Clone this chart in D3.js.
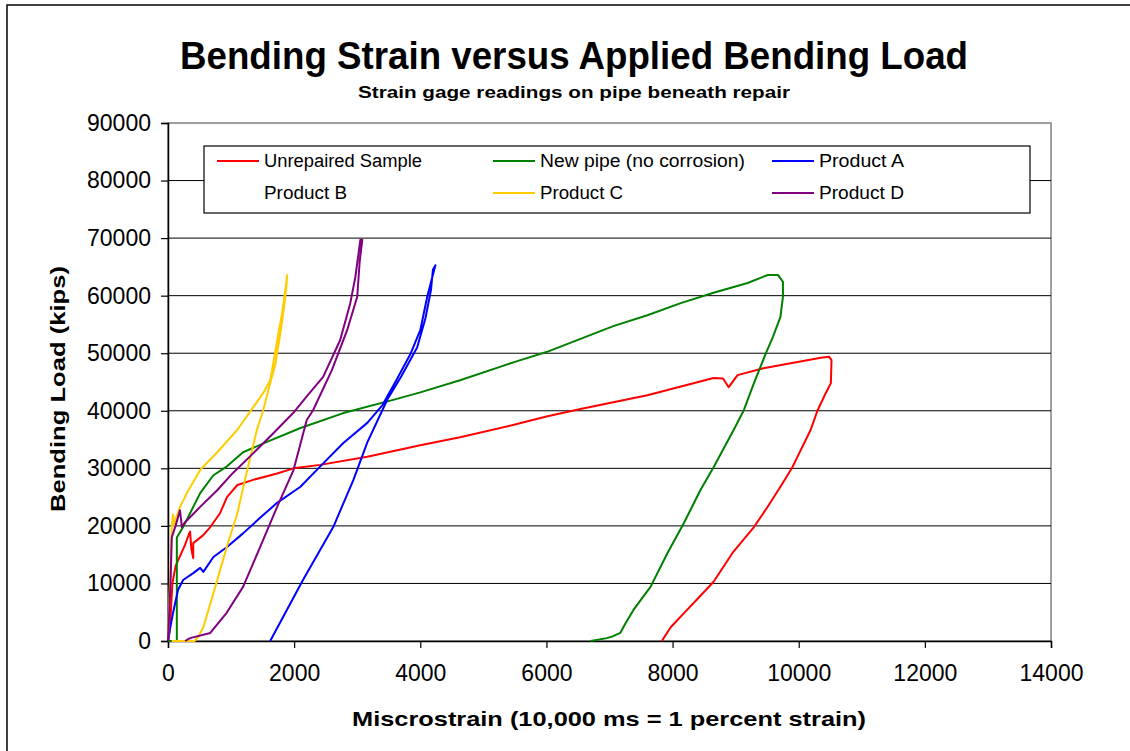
<!DOCTYPE html>
<html>
<head>
<meta charset="utf-8">
<script src="https://cdn.jsdelivr.net/npm/d3@7"></script>
<style>
  html, body { margin: 0; padding: 0; background: #fff; }
  svg { display: block; font-family: "Liberation Sans", Arial, sans-serif; }
</style>
</head>
<body>
<svg id="chart" width="1130" height="751"></svg>
<script>
// ---- Data (strain in microstrain, load in kips) ----
const seriesNames = ["Unrepaired Sample", "New pipe (no corrosion)", "Product A", "Product B", "Product C", "Product D"];
const seriesColors = ["#FF0000", "#008000", "#0000FF", "none", "#FFCC00", "#800080"];

const unrepaired = [[0,0],[30,2000],[70,10000],[120,13000],[160,14000],[270,16700],[330,18500],[350,19000],[370,16000],[400,14400],[400,17000],[560,18400],[670,19800],[825,22200],[935,25000],[1100,27100],[1350,28000],[1730,29100],[1990,30000],[2410,30600],[3160,32000],[4000,34000],[4630,35400],[5500,37600],[6000,39000],[6540,40300],[7600,42700],[8650,45700],[8800,45600],[8890,44100],[9030,46200],[9440,47400],[10350,49200],[10480,49400],[10520,48800],[10510,44800],[10430,43100],[10300,40100],[10190,36700],[9890,30000],[9710,26800],[9500,23200],[9290,19800],[8950,15300],[8650,10300],[8420,7600],[8230,5400],[7970,2400],[7830,0]];

const newPipe = [[0,0],[140,0],[140,18000],[240,19800],[350,22200],[510,25700],[720,28800],[930,30300],[1190,32800],[1570,34600],[2100,37000],[2780,39600],[3570,41900],[4000,43200],[4630,45300],[5500,48500],[6000,50200],[6540,52500],[7060,54700],[7600,56600],[8130,58700],[8650,60500],[9190,62200],[9510,63600],[9670,63600],[9750,62400],[9750,59800],[9710,56300],[9590,52800],[9480,50000],[9290,44800],[9130,40100],[8970,36700],[8650,30200],[8440,26200],[8180,20500],[7920,15300],[7650,9400],[7500,7200],[7380,5400],[7250,3000],[7170,1400],[7050,800],[6960,500],[6700,0]];

const productA = [[0,0],[30,2000],[80,4900],[160,8900],[240,10600],[400,11800],[510,12700],[560,12000],[720,14600],[930,16300],[1190,18700],[1460,21400],[1730,24000],[2100,26800],[2410,30300],[2780,34400],[3160,37900],[3400,41000],[3620,45300],[3850,50000],[4000,54000],[4110,59800],[4190,63200],[4240,65300],[4200,64500],[4170,61000],[4080,56000],[3950,51000],[3700,46000],[3480,42000],[3160,34500],[2940,28000],[2620,19800],[2140,10600],[1620,0]];

const productB = [];

const productC = [[0,0],[30,10000],[60,19800],[80,22000],[100,20000],[130,21500],[190,23300],[300,25700],[510,29700],[780,32800],[1100,36700],[1300,39800],[1510,43100],[1620,45300],[1670,48300],[1760,54000],[1810,57000],[1860,61000],[1890,63600],[1880,62000],[1840,58000],[1790,54000],[1700,48000],[1600,44000],[1510,40100],[1410,36700],[1220,28000],[1100,22200],[930,16300],[750,9400],[560,2400],[480,700],[420,0],[60,0]];

const productD = [[0,0],[40,10000],[60,18000],[120,20000],[190,22700],[220,19800],[260,20500],[510,23300],[780,26200],[1030,29200],[1350,32600],[1670,36100],[2000,39800],[2200,42500],[2460,45900],[2730,52300],[2890,58700],[2970,63200],[3050,69700],[3080,69700],[3040,66000],[3030,64500],[3000,59800],[2840,54000],[2600,47100],[2300,40100],[2200,38400],[1990,29700],[1730,23300],[1460,16300],[1190,9400],[930,4900],[670,1400],[350,500],[270,0]];

const seriesData = [unrepaired, newPipe, productA, productB, productC, productD];

const xTicks = [0, 2000, 4000, 6000, 8000, 10000, 12000, 14000];
const yTicks = [0, 10000, 20000, 30000, 40000, 50000, 60000, 70000, 80000, 90000];

const titleText = "Bending Strain versus Applied Bending Load";
const subtitleText = "Strain gage readings on pipe beneath repair";
const xTitle = "Miscrostrain (10,000 ms = 1 percent strain)";
const yTitle = "Bending Load (kips)";

// ---- Layout ----
const svg = d3.select("#chart");
const plot = { left: 168, right: 1051, top: 123, bottom: 641 };

const x = d3.scaleLinear().domain([0, 14000]).range([plot.left, plot.right]);
const y = d3.scaleLinear().domain([0, 90000]).range([plot.bottom, plot.top]);

// outer chart border
svg.append("rect").attr("x", 7).attr("y", 5).attr("width", 1140).attr("height", 760)
  .attr("fill", "#fff").attr("stroke", "#000").attr("stroke-width", 1.5);

// plot frame (gray)
svg.append("rect").attr("x", plot.left).attr("y", plot.top)
  .attr("width", plot.right - plot.left).attr("height", plot.bottom - plot.top)
  .attr("fill", "#fff").attr("stroke", "#808080").attr("stroke-width", 1.5);

// gridlines
svg.append("g").selectAll("line").data(yTicks.filter(d => d > 0 && d < 90000)).join("line")
  .attr("x1", plot.left).attr("x2", plot.right)
  .attr("y1", d => y(d)).attr("y2", d => y(d))
  .attr("stroke", "#000").attr("stroke-width", 1);

// axes
const yAxis = d3.axisLeft(y).tickValues(yTicks).tickSize(7).tickPadding(10).tickFormat(d3.format("d"));
const gy = svg.append("g").attr("transform", `translate(${plot.left},0)`).call(yAxis);
gy.select(".domain").attr("stroke", "#000").attr("stroke-width", 1.5);
gy.selectAll(".tick line").attr("stroke", "#000").attr("stroke-width", 1.2);
gy.selectAll(".tick text").attr("font-size", 23).attr("fill", "#000")
  .attr("font-family", "Liberation Sans, Arial, sans-serif");

const xAxis = d3.axisBottom(x).tickValues(xTicks).tickSize(7).tickPadding(17).tickFormat(d3.format("d"));
const gx = svg.append("g").attr("transform", `translate(0,${plot.bottom})`).call(xAxis);
gx.select(".domain").attr("stroke", "#000").attr("stroke-width", 1.5);
gx.selectAll(".tick line").attr("stroke", "#000").attr("stroke-width", 1.2);
gx.selectAll(".tick text").attr("font-size", 23).attr("fill", "#000")
  .attr("font-family", "Liberation Sans, Arial, sans-serif");

// series lines
const line = d3.line().x(d => x(d[0])).y(d => y(d[1]));
const linesG = svg.append("g");
seriesData.forEach((data, i) => {
  if (!data.length || seriesColors[i] === "none") return;
  linesG.append("path").datum(data)
    .attr("d", line)
    .attr("fill", "none")
    .attr("stroke", seriesColors[i])
    .attr("stroke-width", 2)
    .attr("stroke-linejoin", "round");
});

// legend
const legend = svg.append("g");
legend.append("rect").attr("x", 204).attr("y", 146).attr("width", 826).attr("height", 67)
  .attr("fill", "#fff").attr("stroke", "#000").attr("stroke-width", 1.2);
const legCols = [217, 493, 772];
const legRows = [161, 193];
const legWidths = [158, 205, 85, 83, 83, 85];
seriesNames.forEach((name, i) => {
  const cx = legCols[i % 3], cy = legRows[Math.floor(i / 3)];
  if (seriesColors[i] !== "none") {
    legend.append("line").attr("x1", cx).attr("x2", cx + 42).attr("y1", cy).attr("y2", cy)
      .attr("stroke", seriesColors[i]).attr("stroke-width", 2);
  }
  legend.append("text").attr("x", cx + 47).attr("y", cy + 6)
    .attr("font-size", 18).attr("fill", "#000")
    .attr("textLength", legWidths[i]).attr("lengthAdjust", "spacingAndGlyphs")
    .text(name);
});

// titles
svg.append("text").attr("x", 574).attr("y", 69).attr("text-anchor", "middle")
  .attr("font-size", 38).attr("font-weight", "bold")
  .attr("textLength", 788).attr("lengthAdjust", "spacingAndGlyphs")
  .text(titleText);
svg.append("text").attr("x", 574).attr("y", 98).attr("text-anchor", "middle")
  .attr("font-size", 17).attr("font-weight", "bold")
  .attr("textLength", 432).attr("lengthAdjust", "spacingAndGlyphs")
  .text(subtitleText);
svg.append("text").attr("x", 609).attr("y", 726).attr("text-anchor", "middle")
  .attr("font-size", 21).attr("font-weight", "bold")
  .attr("textLength", 514).attr("lengthAdjust", "spacingAndGlyphs")
  .text(xTitle);
svg.append("text").attr("transform", "translate(65,389) rotate(-90)").attr("text-anchor", "middle")
  .attr("font-size", 21).attr("font-weight", "bold")
  .attr("textLength", 246).attr("lengthAdjust", "spacingAndGlyphs")
  .text(yTitle);
</script>
</body>
</html>
